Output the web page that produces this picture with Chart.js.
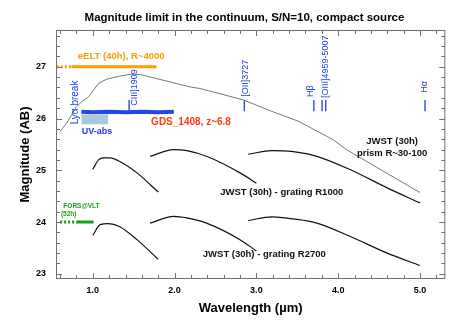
<!DOCTYPE html>
<html>
<head>
<meta charset="utf-8">
<script src="https://cdn.jsdelivr.net/npm/chart.js@4/dist/chart.umd.min.js"></script>
<style>
  html, body { margin: 0; padding: 0; background: #fff; }
  #wrap { width: 463px; height: 327px; }
</style>
</head>
<body>
<div id="wrap"><canvas id="magChart" width="463" height="327"></canvas></div>
<script>
// values (wavelength in micron, AB magnitude)
const prismWave = [0.60, 0.68, 0.74, 0.80, 0.87, 0.95, 1.01, 1.07, 1.17, 1.33, 1.49, 1.58, 2.19, 2.31, 2.84, 3.17, 3.51, 3.94, 4.10, 5.00];
const prismMag  = [25.75, 25.91, 26.07, 26.23, 26.33, 26.42, 26.55, 26.68, 26.76, 26.82, 26.86, 26.85, 26.61, 26.58, 26.36, 26.15, 25.95, 25.59, 25.40, 24.57];

const r1000Wave = [
  [1.00, 1.07, 1.13, 1.21, 1.33, 1.54, 1.80],
  [1.70, 1.99, 2.15, 2.39, 2.80, 3.00],
  [2.90, 3.19, 3.45, 3.74, 4.15, 4.60, 5.00]
];
const r1000Mag = [
  [25.02, 25.20, 25.24, 25.24, 25.17, 24.95, 24.58],
  [25.27, 25.40, 25.38, 25.27, 24.95, 24.75],
  [25.31, 25.38, 25.36, 25.27, 25.01, 24.66, 24.37]
];

const r2700Wave = [
  [1.00, 1.09, 1.19, 1.33, 1.54, 1.80],
  [1.70, 1.99, 2.15, 2.39, 2.80, 3.00],
  [2.90, 3.19, 3.45, 3.74, 4.15, 4.60, 5.00]
];
const r2700Mag = [
  [23.74, 23.95, 23.97, 23.91, 23.66, 23.28],
  [23.98, 24.11, 24.08, 23.98, 23.66, 23.44],
  [24.03, 24.10, 24.06, 23.98, 23.72, 23.40, 23.16]
];

// eELT and FORS limits: [dotted start, solid start, solid end]
const eeltWave = [0.56, 0.74, 1.78];
const eeltMag = 27.0;
const forsWave = [0.60, 0.80, 1.01];
const forsMag = 24.0;

// GDS_1408 spectrum and UV absorption box
const gdsWave = [0.86, 1.00, 1.20, 1.40, 1.60, 1.80, 1.99];
const gdsMag  = [26.13, 26.12, 26.13, 26.12, 26.13, 26.12, 26.13];
const uvWave = [0.86, 1.19];
const uvMag = [26.08, 25.89];

// emission line markers (redshifted)
const lineWave = [1.444, 2.853, 3.703, 3.803, 3.848, 5.062];
const lineMag = [26.14, 26.36];

const xTicks = { min: 0.55, max: 5.31, step: 0.2 };
const yTicks = { min: 22.9, max: 27.71, step: 0.2 };

const FONT = "'Liberation Sans', Arial, Helvetica, sans-serif";
const BLUE = '#1a3cf0';
const ORANGE = '#ff9a00';
const GREEN = '#1a9e1a';

function pts(w, m) {
  return w.map((v, i) => ({ x: v, y: Array.isArray(m) ? m[i] : m }));
}

const datasets = [];

// UV-abs box (top filled down to bottom)
datasets.push({ data: pts(uvWave, uvMag[0]), borderWidth: 0, pointRadius: 0, fill: '+1', backgroundColor: '#a9c7dd' });
datasets.push({ data: pts(uvWave, uvMag[1]), borderWidth: 0, pointRadius: 0, fill: false });

// prism curve
datasets.push({ data: pts(prismWave, prismMag), borderColor: '#777', borderWidth: 1, pointRadius: 0, tension: 0 });

// grating curves
r1000Wave.forEach((w, i) => datasets.push({
  data: pts(w, r1000Mag[i]), borderColor: '#111', borderWidth: 1.2, pointRadius: 0, cubicInterpolationMode: 'monotone'
}));
r2700Wave.forEach((w, i) => datasets.push({
  data: pts(w, r2700Mag[i]), borderColor: '#111', borderWidth: 1.2, pointRadius: 0, cubicInterpolationMode: 'monotone'
}));

// eELT
datasets.push({ data: pts(eeltWave.slice(0, 2), eeltMag), borderColor: ORANGE, borderWidth: 3, borderDash: [2, 2], pointRadius: 0 });
datasets.push({ data: pts(eeltWave.slice(1), eeltMag), borderColor: ORANGE, borderWidth: 3, pointRadius: 0 });

// FORS@VLT
datasets.push({ data: pts(forsWave.slice(0, 2), forsMag), borderColor: GREEN, borderWidth: 3, borderDash: [2, 2], pointRadius: 0 });
datasets.push({ data: pts(forsWave.slice(1), forsMag), borderColor: GREEN, borderWidth: 3, pointRadius: 0 });

// spectrum
datasets.push({ data: pts(gdsWave, gdsMag), borderColor: '#2446e6', borderWidth: 4, pointRadius: 0 });

// line markers
lineWave.forEach(w => datasets.push({
  data: [{ x: w, y: lineMag[0] }, { x: w, y: lineMag[1] }], borderColor: BLUE, borderWidth: 1.3, pointRadius: 0
}));

// text labels at data coordinates
const notes = [
  { text: 'eELT (40h), R~4000', x: 0.817, y: 27.21, color: ORANGE, font: 'bold 9.5px ' + FONT, align: 'left' },
  { text: 'GDS_1408, z~6.8', x: 1.713, y: 25.92, color: '#ff3a10', font: 'bold 10px ' + FONT, align: 'left' },
  { text: 'UV-abs', x: 0.866, y: 25.75, color: BLUE, font: 'bold 9px ' + FONT, align: 'left' },
  { text: 'Lyα break', x: 0.78, y: 26.31, color: BLUE, font: '10px ' + FONT, rotate: true },
  { text: 'CIII]1909', x: 1.509, y: 26.60, color: BLUE, font: '9px ' + FONT, rotate: true },
  { text: '[OII]3727', x: 2.863, y: 26.78, color: BLUE, font: '9px ' + FONT, rotate: true },
  { text: 'Hβ', x: 3.66, y: 26.53, color: BLUE, font: '9px ' + FONT, rotate: true },
  { text: '[OIII]4959-5007', x: 3.84, y: 27.0, color: BLUE, font: '9px ' + FONT, rotate: true },
  { text: 'Hα', x: 5.05, y: 26.61, color: BLUE, font: '9px ' + FONT, rotate: true },
  { text: 'JWST (30h)', x: 4.66, y: 25.555, color: '#111', font: 'bold 9.5px ' + FONT },
  { text: 'prism R~30-100', x: 4.66, y: 25.32, color: '#111', font: 'bold 9.5px ' + FONT },
  { text: 'JWST (30h) - grating R1000', x: 3.31, y: 24.58, color: '#111', font: 'bold 9.5px ' + FONT },
  { text: 'JWST (30h) - grating R2700', x: 3.097, y: 23.37, color: '#111', font: 'bold 9.5px ' + FONT },
  { text: 'FORS@VLT', x: 0.64, y: 24.31, color: GREEN, font: 'bold 6.5px ' + FONT, align: 'left' },
  { text: '(52h)', x: 0.61, y: 24.16, color: GREEN, font: 'bold 6.5px ' + FONT, align: 'left' }
];

const isWhole = v => Math.abs(v - Math.round(v)) < 1e-6;

function tickMarks(ctx, a, scale, horizontal) {
  scale.ticks.forEach(t => {
    const len = isWhole(t.value) ? 6 : 4;
    const p = Math.round(scale.getPixelForValue(t.value)) + 0.5;
    ctx.beginPath();
    if (horizontal) {
      ctx.moveTo(p, a.bottom); ctx.lineTo(p, a.bottom - len);
      ctx.moveTo(p, a.top); ctx.lineTo(p, a.top + len);
    } else {
      ctx.moveTo(a.left, p); ctx.lineTo(a.left + len, p);
      ctx.moveTo(a.right, p); ctx.lineTo(a.right - len, p);
    }
    ctx.stroke();
  });
}

const decor = {
  id: 'decor',
  afterDatasetsDraw(chart) {
    const ctx = chart.ctx;
    const { x, y } = chart.scales;
    notes.forEach(n => {
      ctx.save();
      ctx.font = n.font;
      ctx.fillStyle = n.color;
      ctx.textAlign = n.align || 'center';
      ctx.textBaseline = 'middle';
      ctx.translate(x.getPixelForValue(n.x), y.getPixelForValue(n.y));
      if (n.rotate) ctx.rotate(-Math.PI / 2);
      ctx.fillText(n.text, 0, 0);
      ctx.restore();
    });
  },
  afterDraw(chart) {
    const ctx = chart.ctx;
    const a = chart.chartArea;
    ctx.save();
    ctx.setLineDash([]);
    ctx.strokeStyle = '#707070';
    ctx.lineWidth = 1;
    ctx.strokeRect(a.left + 0.5, a.top + 0.5, a.right - a.left - 1, a.bottom - a.top - 1);
    tickMarks(ctx, a, chart.scales.x, true);
    tickMarks(ctx, a, chart.scales.y, false);
    // chart title
    ctx.fillStyle = '#000';
    ctx.font = 'bold 11.5px ' + FONT;
    ctx.textAlign = 'center';
    ctx.textBaseline = 'middle';
    ctx.fillText('Magnitude limit in the continuum, S/N=10, compact source', 244.5, 18.3);
    ctx.restore();
  }
};

new Chart(document.getElementById('magChart'), {
  type: 'line',
  data: { datasets: datasets },
  options: {
    responsive: false,
    animation: false,
    devicePixelRatio: 1,
    layout: { padding: { top: 30, right: 17.7, left: 0, bottom: 0 } },
    plugins: { legend: { display: false }, tooltip: { enabled: false } },
    scales: {
      x: {
        type: 'linear',
        min: xTicks.min, max: xTicks.max,
        grid: { display: false, drawTicks: false },
        border: { display: false },
        ticks: {
          stepSize: xTicks.step, includeBounds: false, autoSkip: false, maxRotation: 0, padding: 6,
          color: '#000', font: { family: FONT, size: 9, weight: 'bold' },
          callback: v => isWhole(v) ? v.toFixed(1) : ''
        },
        title: { display: true, text: 'Wavelength (µm)', color: '#000', font: { family: FONT, size: 13, weight: 'bold' }, padding: { top: 0, bottom: 11 } },
        afterFit: s => { s.height = 48; }
      },
      y: {
        type: 'linear',
        min: yTicks.min, max: yTicks.max,
        grid: { display: false, drawTicks: false },
        border: { display: false },
        ticks: {
          stepSize: yTicks.step, includeBounds: false, autoSkip: false, padding: 10,
          color: '#000', font: { family: FONT, size: 9, weight: 'bold' },
          callback: v => isWhole(v) ? String(Math.round(v)) : ''
        },
        title: { display: true, text: 'Magnitude (AB)', color: '#000', font: { family: FONT, size: 13, weight: 'bold' }, padding: { top: 18, bottom: 0 } },
        afterFit: s => { s.width = 56; }
      }
    }
  },
  plugins: [decor]
});
</script>
</body>
</html>
